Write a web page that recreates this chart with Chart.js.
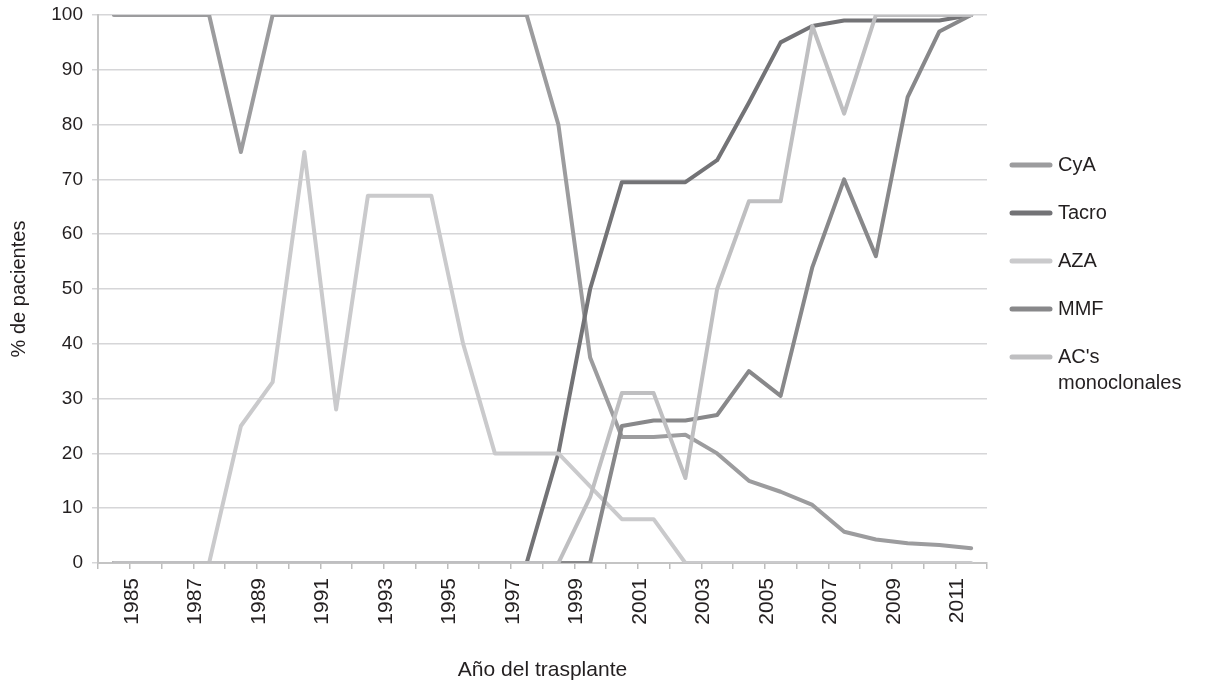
<!DOCTYPE html>
<html>
<head>
<meta charset="utf-8">
<script src="https://cdn.jsdelivr.net/npm/chart.js@4.4.1/dist/chart.umd.min.js"></script>
<style>
  html, body { margin: 0; padding: 0; background: #ffffff; }
  #wrap { width: 1205px; height: 686px; }
</style>
</head>
<body>
<div id="wrap"><canvas id="c" width="1205" height="686"></canvas></div>
<script>
const years = [1985,1986,1987,1988,1989,1990,1991,1992,1993,1994,1995,1996,1997,1998,
               1999,2000,2001,2002,2003,2004,2005,2006,2007,2008,2009,2010,2011,2012];
const shownYearLabels = [1985,1987,1989,1991,1993,1995,1997,1999,2001,2003,2005,2007,2009,2011];
const yTicks = [0,10,20,30,40,50,60,70,80,90,100];

const cyA   = [100,100,100,100,75,100,100,100,100,100,100,100,100,100,80,37.5,23,23,23.4,20,15,13,10.6,5.7,4.3,3.6,3.3,2.7];
const tacro = [0,0,0,0,0,0,0,0,0,0,0,0,0,0,20,50,69.5,69.5,69.5,73.5,84,95,98,99,99,99,99,100];
const aza   = [0,0,0,0,25,33,75,28,67,67,67,40,20,20,20,14,8,8,0,0,0,0,0,0,0,0,0,0];
const mmf   = [0,0,0,0,0,0,0,0,0,0,0,0,0,0,0,0,25,26,26,27,35,30.5,54,70,56,85,97,100];
const acs   = [0,0,0,0,0,0,0,0,0,0,0,0,0,0,0,12,31,31,15.5,50,66,66,98,82,100,100,100,100];

const seriesNames = ["CyA", "Tacro", "AZA", "MMF", ["AC's", "monoclonales"]];
const seriesColors = ["#9c9c9e", "#737376", "#cacacc", "#88888a", "#bfbfc1"];
const seriesData = [cyA, tacro, aza, mmf, acs];

const FONT = "'Liberation Sans', Arial, sans-serif";

const legendPlugin = {
  id: 'customLegend',
  afterDraw(chart) {
    const ctx = chart.ctx;
    const x0 = 1012, x1 = 1050, tx = 1058;
    const rowY = [165, 213, 261, 309, 357];
    ctx.save();
    chart.data.datasets.forEach((ds, i) => {
      const y = rowY[i];
      ctx.strokeStyle = ds.borderColor;
      ctx.lineWidth = 5;
      ctx.lineCap = 'round';
      ctx.beginPath();
      ctx.moveTo(x0, y);
      ctx.lineTo(x1, y);
      ctx.stroke();
      ctx.fillStyle = '#231f20';
      ctx.font = '20px ' + FONT;
      ctx.textBaseline = 'middle';
      ctx.textAlign = 'left';
      const lines = Array.isArray(ds.label) ? ds.label : [ds.label];
      lines.forEach((t, k) => ctx.fillText(t, tx, y + k * 26));
    });
    ctx.restore();
  }
};

const datasets = seriesData.map((d, i) => ({
  label: seriesNames[i],
  data: d,
  borderColor: seriesColors[i],
  backgroundColor: seriesColors[i],
  borderWidth: 4,
  pointRadius: 0,
  tension: 0,
  borderCapStyle: 'round',
  borderJoinStyle: 'round',
  fill: false,
  order: 4 - i
}));

new Chart(document.getElementById('c'), {
  type: 'line',
  data: { labels: years, datasets: datasets },
  options: {
    responsive: false,
    animation: false,
    devicePixelRatio: 1,
    layout: { padding: { top: 15, right: 218, bottom: 0, left: 0 } },
    plugins: { legend: { display: false }, tooltip: { enabled: false } },
    scales: {
      x: {
        type: 'category',
        offset: true,
        afterFit(s) { s.height = 123; s.paddingLeft = 0; s.paddingRight = 0; },
        grid: { offset: true, drawOnChartArea: false, drawTicks: true, tickLength: 6, color: '#bdbdbd', lineWidth: 1.5 },
        border: { display: true, color: '#c4c4c4', width: 2 },
        ticks: {
          autoSkip: false,
          maxRotation: 90,
          minRotation: 90,
          labelOffset: 18,
          padding: 9,
          color: '#231f20',
          font: { family: FONT, size: 21 },
          callback(value, index) {
            const y = years[index];
            return shownYearLabels.includes(y) ? String(y) : '';
          }
        },
        title: {
          display: true,
          text: 'Año del trasplante',
          color: '#231f20',
          font: { family: FONT, size: 21 },
          padding: { top: 0, bottom: 3 }
        }
      },
      y: {
        min: 0,
        max: 100,
        afterFit(s) { s.width = 98; s.paddingTop = 0; s.paddingBottom = 0; },
        afterBuildTicks(s) { s.ticks = yTicks.map(v => ({ value: v })); },
        grid: { color: '#d6d6d8', lineWidth: 1.5, drawTicks: true, tickLength: 6 },
        border: { display: true, color: '#c4c4c4', width: 2 },
        ticks: {
          padding: 9,
          color: '#231f20',
          font: { family: FONT, size: 19 }
        },
        title: {
          display: true,
          text: '% de pacientes',
          color: '#231f20',
          font: { family: FONT, size: 20 },
          padding: { top: 7, bottom: 0 }
        }
      }
    }
  },
  plugins: [legendPlugin]
});
</script>
</body>
</html>
